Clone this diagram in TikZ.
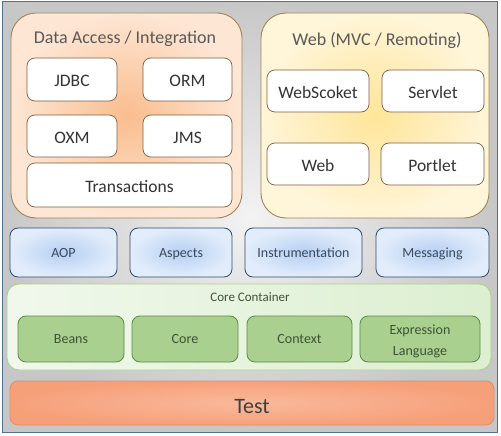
\documentclass[tikz,border=0pt]{standalone}
\usepackage{fontspec}
\setmainfont{Carlito}
\definecolor{groupborder}{HTML}{A08458}
\definecolor{whiteborder}{HTML}{7F5E45}
\definecolor{blueborder}{HTML}{34496A}
\definecolor{bluein}{HTML}{B6CFF2}
\definecolor{blueout}{HTML}{E2EDFB}
\definecolor{greenborder}{HTML}{5E8A48}
\definecolor{greenfill}{HTML}{A9D08E}
\definecolor{textblue}{HTML}{3C4A5C}
\definecolor{textgreen}{HTML}{3E5236}
\definecolor{frameborder}{HTML}{52708F}
\definecolor{dain}{HTML}{F9BD8E}
\definecolor{daout}{HTML}{FDE6D4}
\definecolor{webin}{HTML}{FFE59A}
\definecolor{webout}{HTML}{FFF5D8}
\definecolor{ccborder}{HTML}{A9D18E}
\definecolor{ccleft}{HTML}{F0F8EC}
\definecolor{ccright}{HTML}{DCEFD0}
\definecolor{testborder}{HTML}{E38C63}
\definecolor{testin}{HTML}{F9B99A}
\definecolor{testout}{HTML}{F6A07A}
\begin{document}
\begin{tikzpicture}[x=1pt,y=-1pt,
  box/.style={rounded corners=#1, inner sep=0pt, align=center},
  capc/.style={text height=#1, text depth=0pt},
  group/.style={box=25pt, draw=groupborder, line width=0.9pt},
  whitebox/.style={box=8pt, draw=whiteborder, fill=white, line width=0.7pt, font=\fontsize{17.5}{19}\selectfont, text=black!80, capc=14.5pt},
  bluebox/.style={box=8pt, draw=blueborder, line width=0.8pt, inner color=bluein, outer color=blueout, font=\fontsize{14}{16}\selectfont, text=textblue, capc=9pt},
  greenbox/.style={box=8pt, draw=greenborder, line width=0.8pt, fill=greenfill, font=\fontsize{14}{16}\selectfont, text=textgreen},
  title/.style={font=\fontsize{18}{20}\selectfont, text=black!65, inner sep=0pt, capc=11.6pt}
]
\useasboundingbox (0,0) rectangle (501,436);
% background frame
\node[box=0pt, draw=frameborder, line width=1pt, minimum width=495pt, minimum height=430pt,
  inner color=black!5, outer color=black!22] (frame) at (249.5,217) {};
% Data Access group
\node[group, minimum width=231pt, minimum height=205pt, inner color=dain, outer color=daout] (da) at (126.5,115.5) {};
\node[title] (datitle) at (125,37.8) {Data Access / Integration};
\node[whitebox, minimum width=90pt, minimum height=43pt] (jdbc) at (72,79.5) {JDBC};
\node[whitebox, minimum width=89pt, minimum height=43pt] (orm) at (187.5,79.5) {ORM};
\node[whitebox, minimum width=90pt, minimum height=42pt] (oxm) at (72,136) {OXM};
\node[whitebox, minimum width=89pt, minimum height=42pt] (jms) at (187.5,136) {JMS};
\node[whitebox, minimum width=205pt, minimum height=44pt] (trans) at (129.5,185) {Transactions};
% Web group
\node[group, minimum width=228pt, minimum height=205pt, inner color=webin, outer color=webout] (web) at (375,115.5) {};
\node[title] (webtitle) at (377,39.5) {Web (MVC / Remoting)};
\node[whitebox, minimum width=102pt, minimum height=42pt] (ws) at (318,91) {WebScoket};
\node[whitebox, minimum width=102pt, minimum height=42pt] (servlet) at (433,91) {Servlet};
\node[whitebox, minimum width=102pt, minimum height=42pt] (webm) at (318,164) {Web};
\node[whitebox, minimum width=103pt, minimum height=42pt] (portlet) at (432.5,164) {Portlet};
% blue row
\node[bluebox, minimum width=107pt, minimum height=49pt] (aop) at (63.5,252.5) {AOP};
\node[bluebox, minimum width=102pt, minimum height=49pt] (aspects) at (181,252.5) {Aspects};
\node[bluebox, minimum width=117pt, minimum height=49pt] (instr) at (303.5,252.5) {Instrumentation};
\node[bluebox, minimum width=113pt, minimum height=49pt] (msg) at (432.5,252.5) {Messaging};
% Core container
\node[box=12pt, draw=ccborder, line width=0.9pt, minimum width=484pt, minimum height=86pt,
  left color=ccleft, right color=ccright] (cc) at (249,327) {};
\node[font=\fontsize{13}{15}\selectfont, text=textgreen, inner sep=0pt, capc=8.4pt] (cctitle) at (250,297.5) {Core Container};
\node[greenbox, capc=9pt, minimum width=106pt, minimum height=46pt] (beans) at (71,339) {Beans};
\node[greenbox, capc=9pt, minimum width=106pt, minimum height=46pt] (core) at (185,339) {Core};
\node[greenbox, capc=9pt, minimum width=105pt, minimum height=46pt] (ctx) at (299.5,339) {Context};
\node[greenbox, minimum width=120pt, minimum height=46pt] (expr) at (420,339) {};
\node[font=\fontsize{14}{21}\selectfont, text=textgreen, align=center, inner sep=0pt] (exprtext) at (420,341) {Expression\\Language};
% Test
\node[box=8pt, draw=testborder, line width=0.8pt, minimum width=484pt, minimum height=44pt,
  inner color=testin, outer color=testout, font=\fontsize{22}{24}\selectfont, text=black!75,
  capc=20pt] (test) at (252,403) {Test};
\end{tikzpicture}
\end{document}
